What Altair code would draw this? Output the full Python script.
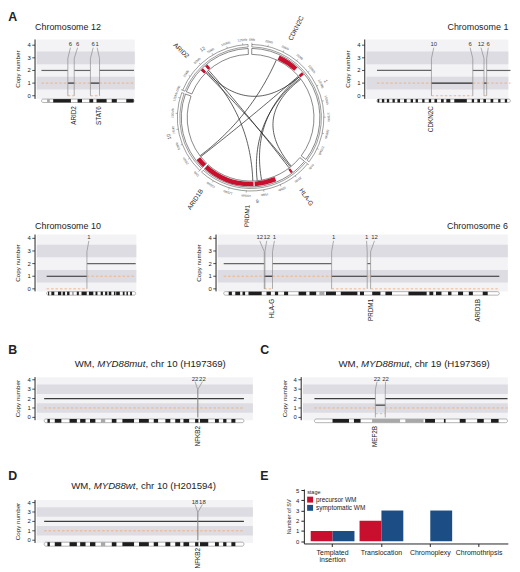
import altair as alt
import numpy as np
import pandas as pd

FONT = "Liberation Sans"
INK = "#222222"
BG = "#F3F3F6"
BAND = "#DCDCE2"
ORANGE = "#F2AE78"
SEG_LIGHT = "#666666"
SEG_DARK = "#2A2A2A"
CONN = "#8C8C8C"
RED = "#C8102E"
BLUE = "#1C4E85"

# ---------------- Panel A: chromosome 12 ----------------
chr12_length = 133.3
chr12_seg_start = [0.0, 38.0, 47.2, 70.5, 83.6]
chr12_seg_end = [38.0, 47.2, 70.5, 83.6, 133.3]
chr12_total_cn = [2, 1, 2, 1, 2]
chr12_minor_cn = [1, 0, 1, 0, 1]
chr12_bp_pos = [38.0, 47.2, 70.5, 83.6]
chr12_bp_label_pos = [41.7, 52.0, 74.5, 80.2]
chr12_bp_label = ["6", "6", "6", "1"]
chr12_funnels = [(0, 1), (2, 3)]
chr12_genes = ["ARID2", "STAT6"]
chr12_gene_pos = [47.2, 83.6]
chr12_dark_start = [16.9, 52.0, 69.0, 79.3, 101.2, 122.1]
chr12_dark_end = [42.4, 58.4, 74.5, 93.8, 108.5, 132.8]
chr12_grey_start = [8.1]
chr12_grey_end = [12.1]

# ---------------- Panel A: chromosome 1 ----------------
chr1_length = 248.9
chr1_seg_start = [0.0, 101.6, 178.7, 199.6, 204.6]
chr1_seg_end = [101.6, 178.7, 199.6, 204.6, 248.9]
chr1_total_cn = [2, 1, 2, 1, 2]
chr1_minor_cn = [1, 0, 1, 0, 1]
chr1_bp_pos = [101.6, 178.7, 199.6, 204.6]
chr1_bp_label_pos = [106.0, 173.7, 194.0, 207.6]
chr1_bp_label = ["10", "6", "12", "6"]
chr1_funnels = [(2, 3)]
chr1_genes = ["CDKN2C"]
chr1_gene_pos = [101.6]
chr1_dark_start = [1.2, 9.2, 18.5, 29.0, 38.2, 50.5, 62.8, 72.1, 84.4, 96.7,
                   107.2, 119.5, 129.4, 144.2, 176.8, 187.3, 198.4, 211.9, 226.1, 238.4]
chr1_dark_end = [4.3, 13.6, 22.8, 33.3, 43.1, 55.4, 67.2, 76.4, 88.7, 101.0,
                 112.1, 124.5, 136.8, 167.6, 181.1, 192.2, 203.3, 216.9, 230.4, 242.7]

# ---------------- chromosome 10 ideogram (A, B, D) ----------------
chr10_length = 133.8
chr10_dark_start = [2.2, 7.1, 17.0, 24.1, 30.7, 45.3, 52.4, 63.5, 73.4, 81.2,
                    87.8, 93.3, 101.1, 104.4, 114.4, 119.9, 125.4]
chr10_dark_end = [3.8, 11.5, 21.9, 27.7, 34.3, 48.4, 60.2, 70.1, 76.3, 84.5,
                  91.1, 97.1, 103.3, 109.9, 117.0, 122.1, 128.1]
chr10_grey_start = [38.0]
chr10_grey_end = [40.9]

# Panel A chromosome 10
chr10a_seg_start = [0.0, 60.5]
chr10a_seg_end = [60.5, 133.8]
chr10a_total_cn = [1, 2]
chr10a_minor_cn = [0, 1]
chr10a_bp_pos = [60.5]
chr10a_bp_label_pos = [63.4]
chr10a_bp_label = ["1"]

# ---------------- Panel A: chromosome 6 ----------------
chr6_length = 171.1
chr6_seg_start = [0.0, 25.2, 30.3, 67.0, 89.1, 91.2]
chr6_seg_end = [25.2, 30.3, 67.0, 89.1, 91.2, 171.1]
chr6_total_cn = [2, 1, 2, 1, 2, 1]
chr6_minor_cn = [1, 0, 1, 0, 1, 0]
chr6_bp_pos = [25.2, 25.6, 30.3, 67.0, 89.1, 91.2]
chr6_bp_label_pos = [22.4, 26.7, 31.5, 68.2, 88.7, 93.6]
chr6_bp_label = ["12", "12", "1", "1", "1", "12"]
chr6_funnels = [(1, 2), (4, 5)]
chr6_genes = ["HLA-G", "PRDM1", "ARID1B"]
chr6_gene_pos = [30.3, 91.2, 157.8]
chr6_dark_start = [3.1, 7.2, 11.7, 15.4, 26.6, 31.8, 37.5, 46.5, 53.3, 63.5, 72.7,
                   84.6, 92.2, 100.4, 114.7, 127.7, 131.8, 139.3, 145.5, 152.2, 160.8]
chr6_dark_end = [5.1, 10.2, 13.3, 23.6, 29.3, 33.8, 40.0, 51.2, 57.4, 69.7, 83.0,
                 87.1, 97.3, 104.5, 126.0, 130.1, 135.2, 141.4, 148.6, 154.7, 163.9]
chr6_grey_start = [59.4]
chr6_grey_end = [62.5]

# ---------------- Panels B / D: chromosome 10 ----------------
b_seg_start = [0.0]
b_seg_end = [133.8]
b_total_cn = [2]
b_minor_cn = [1]
b_bp_pos = [102.9, 102.9]
b_bp_label_pos = [101.1, 106.0]
b_bp_label = ["22", "22"]
d_bp_label = ["18", "18"]
nfkb2_pos = [102.9]

# ---------------- Panel C: chromosome 19 ----------------
chr19_length = 58.6
c_seg_start = [0.0, 18.5, 21.5]
c_seg_end = [18.5, 21.5, 58.6]
c_total_cn = [2, 1.3, 2]
c_minor_cn = [1, 0.4, 1]
c_bp_pos = [18.5, 21.5]
c_bp_label_pos = [19.0, 21.6]
c_bp_label = ["22", "22"]
c_funnels = [(0, 1)]
c_gene_pos = [18.5]
chr19_dark_start = [5.5, 12.0, 33.6, 39.3, 44.1, 49.4, 53.6]
chr19_dark_end = [10.5, 14.0, 36.6, 39.8, 45.9, 51.4, 55.9]
chr19_grey_start = [17.5, 27.6]
chr19_grey_end = [26.0, 33.1]

# ---------------- Circos (panel A centre) ----------------
circ_chroms = ["1", "6", "10", "12"]
circ_start_deg = [1.0, 129.0, 224.0, 292.0]
circ_end_deg = [127.0, 222.0, 290.0, 358.0]
circ_length_mb = [248.9, 171.1, 133.8, 133.3]
circ_label_deg = [64.0, 175.5, 257.0, 325.0]
loss_start_deg = [25.0, 48.5, 313.5, 318.5, 142.0, 158.0, 177.5, 224.0]
loss_end_deg = [43.0, 51.0, 316.0, 321.0, 144.0, 176.5, 222.0, 232.0]
circ_genes = ["CDKN2C", "ARID2", "HLA-G", "PRDM1", "ARID1B"]
circ_gene_deg = [27.0, 314.0, 145.0, 182.0, 214.0]
chord_from_deg = [316.0, 315.0, 318.5, 24.0, 317.0, 50.0, 51.5, 52.5, 49.0]
chord_to_deg = [50.0, 141.0, 142.5, 233.0, 178.0, 170.0, 174.0, 140.0, 232.0]

# ---------------- Panel E ----------------
sv_types = ["Templated insertion", "Translocation", "Chromoplexy", "Chromothripsis"]
stages = ["precursor WM", "symptomatic WM"]
stage_colors = [RED, BLUE]
precursor_counts = [1, 2, 0, 0]
symptomatic_counts = [1, 3, 3, 0]

cn_ticks = [0, 1, 2, 3, 4]


def txt(text, x, y, size=9, align="left", baseline="alphabetic", weight="normal",
        style="normal", color=INK, font=FONT, angle=0):
    return alt.Chart(pd.DataFrame({"t": [text]})).mark_text(
        align=align, baseline=baseline, fontSize=size, fontWeight=weight,
        fontStyle=style, color=color, font=font, angle=angle
    ).encode(x=alt.value(x), y=alt.value(y), text="t:N")


def box(x0, x1, y0, y1, color):
    return alt.Chart(pd.DataFrame({"c": [color]})).mark_rect(color=color).encode(
        x=alt.value(x0), x2=alt.value(x1), y=alt.value(y0), y2=alt.value(y1))


def cn_panel(off, W, Wcell, Hcell, xdom, ydom, yrange, length, seg_s, seg_e, tot, minor,
             bp_pos, bp_lab_pos, bp_lab, genes, gene_pos, dark_s, dark_e,
             grey_s=None, grey_e=None, funnels=(), ideo=(0.2, 3.6), gene_off=7.3,
             two_tone=True, extra=None):
    """off: left offset of the plot area inside its grid cell; W: plot width."""
    ysc = alt.Scale(domain=ydom, range=yrange, nice=False, zero=False)
    ybot, ytop = yrange
    xsc = alt.Scale(domain=xdom, range=[off, off + W], nice=False, zero=False)
    X = lambda f: alt.X(f, scale=xsc, axis=None)
    Y = lambda f: alt.Y(f, scale=ysc, axis=None)

    bg = alt.Chart(pd.DataFrame({"y0": [ydom[0]], "y1": [ydom[1]]})).mark_rect(color=BG).encode(
        x=alt.value(off), x2=alt.value(off + W), y=Y("y0:Q"), y2="y1:Q")
    bands = alt.Chart(pd.DataFrame({"y0": [0.5, 2.5], "y1": [1.5, 3.5]})).mark_rect(color=BAND).encode(
        x=alt.value(off), x2=alt.value(off + W), y=Y("y0:Q"), y2="y1:Q")
    layers = [bg, bands]
    if funnels:
        frows = []
        for j, (a, b) in enumerate(funnels):
            frows += [{"id": j, "k": 0, "y": ydom[0], "x": bp_pos[a], "x2": bp_pos[b]},
                      {"id": j, "k": 1, "y": 2.95, "x": bp_pos[a], "x2": bp_pos[b]},
                      {"id": j, "k": 2, "y": 3.8, "x": bp_lab_pos[a], "x2": bp_lab_pos[b]}]
        layers.append(alt.Chart(pd.DataFrame(frows)).mark_area(orient="horizontal", color="white").encode(
            y=Y("y:Q"), x=X("x:Q"), x2="x2:Q", detail="id:N", order="k:Q"))
    # y axis
    axl = alt.Chart(pd.DataFrame({"y0": [ydom[0]], "y1": [ydom[1]]})).mark_rule(
        color=INK, strokeWidth=1).encode(x=alt.value(off - 1.7), y=Y("y0:Q"), y2="y1:Q")
    tdf = pd.DataFrame({"v": cn_ticks, "t": [str(v) for v in cn_ticks]})
    axt = alt.Chart(tdf).mark_rule(color=INK, strokeWidth=0.8).encode(
        x=alt.value(off - 4.5), x2=alt.value(off - 1.7), y=Y("v:Q"))
    axlab = alt.Chart(tdf).mark_text(align="right", baseline="middle", fontSize=6, font=FONT,
                                     color=INK).encode(x=alt.value(off - 6), y=Y("v:Q"), text="t:N")
    axtitle = txt("Copy number", off - 18.5, (ybot + ytop) / 2, 6.3, align="center",
                  baseline="middle", angle=270)
    layers += [axl, axt, axlab, axtitle]

    segdf = pd.DataFrame({"s": seg_s, "e": seg_e, "cn": tot, "m": minor})
    orange = alt.Chart(segdf).mark_rule(color=ORANGE, strokeDash=[2.5, 2], strokeWidth=0.9).encode(
        x=X("s:Q"), x2="e:Q", y=Y("m:Q"))
    seg_color = (alt.condition(alt.datum.cn < 2, alt.value(SEG_DARK), alt.value(SEG_LIGHT))
                 if two_tone else alt.value("#3C3C3C"))
    segs = alt.Chart(segdf).mark_rule(strokeWidth=1.2).encode(
        x=X("s:Q"), x2="e:Q", y=Y("cn:Q"), color=seg_color)
    rows = []
    for i, (p, lp) in enumerate(zip(bp_pos, bp_lab_pos)):
        rows += [{"id": i, "k": 0, "x": p, "y": 0.0},
                 {"id": i, "k": 1, "x": p, "y": 2.95},
                 {"id": i, "k": 2, "x": lp, "y": 3.8}]
    conn = alt.Chart(pd.DataFrame(rows)).mark_line(color=CONN, strokeWidth=0.7).encode(
        x=X("x:Q"), y=Y("y:Q"), detail="id:N", order="k:Q")
    labdf = pd.DataFrame({"x": bp_lab_pos, "t": bp_lab, "y": [4.1] * len(bp_lab)})
    blab = alt.Chart(labdf).mark_text(fontSize=6, font=FONT, color="#333333").encode(
        x=X("x:Q"), y=Y("y:Q"), text="t:N")
    iy0, iy1 = ybot + ideo[0], ybot + ideo[1]
    outline = alt.Chart(pd.DataFrame({"s": [0.0], "e": [length]})).mark_rect(
        fill="white", stroke="#666666", strokeWidth=0.5, cornerRadius=1.8).encode(
        x=X("s:Q"), x2="e:Q", y=alt.value(iy0), y2=alt.value(iy1))
    dark = alt.Chart(pd.DataFrame({"s": dark_s, "e": dark_e})).mark_rect(color="#1E1E1E").encode(
        x=X("s:Q"), x2="e:Q", y=alt.value(iy0), y2=alt.value(iy1))
    layers += [orange, segs, conn, blab, outline, dark]
    if grey_s:
        layers.append(alt.Chart(pd.DataFrame({"s": grey_s, "e": grey_e})).mark_rect(color="#A8A8A8").encode(
            x=X("s:Q"), x2="e:Q", y=alt.value(iy0), y2=alt.value(iy1)))
    if genes:
        layers.append(alt.Chart(pd.DataFrame({"g": genes, "x": gene_pos})).mark_text(
            angle=270, align="right", baseline="middle", fontSize=6.4, font=FONT, color=INK).encode(
            x=X("x:Q"), y=alt.value(ybot + gene_off), text="g:N"))
    if extra:
        layers += extra
    return alt.layer(*layers).properties(width=Wcell, height=Hcell)


def wm_title(x0, y, mut, rest):
    s = 9.75
    w1 = 2.333 * s
    em = {"MYD88mut": 5.0, "MYD88wt": 4.334}[mut]
    return [txt("WM, ", x0, y, s), txt(mut, x0 + w1, y, s, style="italic"),
            txt(rest, x0 + w1 + em * s, y, s)]


def dummy(h):
    return alt.Chart(pd.DataFrame({"a": [0]})).mark_point(opacity=0).encode(
        x=alt.value(0), y=alt.value(0)).properties(width=1, height=h)


# grid: column widths fixed; row heights include the gap to the next row
C1, C2, C3 = 136.5, 195.5, 143.3
H1, H2, H3, H4 = 196.6, 143.4, 112.3, 55

chr12 = cn_panel(0, 99, C1, H1, [-6.8, 134.3], [-0.25, 4.45], [60, 0], chr12_length,
                 chr12_seg_start, chr12_seg_end, chr12_total_cn, chr12_minor_cn,
                 chr12_bp_pos, chr12_bp_label_pos, chr12_bp_label,
                 chr12_genes, chr12_gene_pos, chr12_dark_start, chr12_dark_end,
                 chr12_grey_start, chr12_grey_end, funnels=chr12_funnels,
                 extra=[txt("Chromosome 12", -1.7, -9.7, 9),
                        txt("A", -28.7, -28.7, 12.5, baseline="top", weight="bold")])

chr1 = cn_panel(0, 143.3, C3, H1, [-19.6, 245.0], [-0.25, 4.45], [60, 0], chr1_length,
                chr1_seg_start, chr1_seg_end, chr1_total_cn, chr1_minor_cn,
                chr1_bp_pos, chr1_bp_label_pos, chr1_bp_label,
                chr1_genes, chr1_gene_pos, chr1_dark_start, chr1_dark_end,
                funnels=chr1_funnels,
                extra=[txt("Chromosome 1", 143.3, -9.7, 9, align="right")])

chr10 = cn_panel(0, 100.6, C1, H2, [-14.9, 134.7], [-0.2, 4.3], [57.4, 0], chr10_length,
                 chr10a_seg_start, chr10a_seg_end, chr10a_total_cn, chr10a_minor_cn,
                 chr10a_bp_pos, chr10a_bp_label_pos, chr10a_bp_label,
                 [], [], chr10_dark_start, chr10_dark_end, chr10_grey_start, chr10_grey_end,
                 ideo=(0.3, 3.8), gene_off=7.6,
                 extra=[txt("Chromosome 10", -1.7, -6, 9)])

chr6 = cn_panel(45.8, 293, C2, H2, [-3.7, 176.4], [-0.2, 4.3], [57.4, 0], chr6_length,
                chr6_seg_start, chr6_seg_end, chr6_total_cn, chr6_minor_cn,
                chr6_bp_pos, chr6_bp_label_pos, chr6_bp_label,
                chr6_genes, chr6_gene_pos, chr6_dark_start, chr6_dark_end,
                chr6_grey_start, chr6_grey_end, funnels=chr6_funnels,
                ideo=(0.3, 3.8), gene_off=7.6,
                extra=[txt("Chromosome 6", 45.8 + 293, -6, 9, align="right")])

panel_b = cn_panel(0, 218.3, C1, H3, [-5.0, 139.8], [-0.3, 4.28], [43.5, 0], chr10_length,
                   b_seg_start, b_seg_end, b_total_cn, b_minor_cn,
                   b_bp_pos, b_bp_label_pos, b_bp_label,
                   ["NFKB2"], nfkb2_pos, chr10_dark_start, chr10_dark_end,
                   chr10_grey_start, chr10_grey_end, ideo=(-1.2, 2.5), gene_off=5.8,
                   two_tone=False,
                   extra=wm_title(38.3, -10.7, "MYD88mut", ", chr 10 (H197369)") +
                   [txt("B", -28.7, -33.7, 12.5, baseline="top", weight="bold")])

C_OFF = 131.8
panel_c = cn_panel(C_OFF, 207, C2, H3, [-3.5, 58.7], [-0.3, 4.28], [43.5, 0], chr19_length,
                   c_seg_start, c_seg_end, c_total_cn, c_minor_cn,
                   c_bp_pos, c_bp_label_pos, c_bp_label,
                   ["MEF2B"], c_gene_pos, chr19_dark_start, chr19_dark_end,
                   chr19_grey_start, chr19_grey_end, funnels=c_funnels,
                   ideo=(-1.2, 2.5), gene_off=5.8, two_tone=False,
                   extra=wm_title(C_OFF + 36.0, -10.7, "MYD88mut", ", chr 19 (H197369)") +
                   [txt("C", C_OFF - 43, -33.7, 12.5, baseline="top", weight="bold")])

panel_d = cn_panel(0, 218.3, C1, H4, [-5.0, 139.8], [-0.3, 4.28], [54.55, 11.04], chr10_length,
                   b_seg_start, b_seg_end, b_total_cn, b_minor_cn,
                   b_bp_pos, b_bp_label_pos, d_bp_label,
                   ["NFKB2"], nfkb2_pos, chr10_dark_start, chr10_dark_end,
                   chr10_grey_start, chr10_grey_end,
                   ideo=(-0.85, 3.15), gene_off=5.0, two_tone=False,
                   extra=wm_title(34.8, 0.3, "MYD88wt", ", chr 10 (H201594)") +
                   [txt("D", -28.7, -19, 12.5, baseline="top", weight="bold")])

# ---------------- circos ----------------
S = 158
HALF = S / 2
cs_x = alt.Scale(domain=[-HALF, HALF], range=[0, S], nice=False, zero=False)
cs_y = alt.Scale(domain=[-HALF, HALF], range=[S, 0], nice=False, zero=False)
CX = lambda f: alt.X(f, scale=cs_x, axis=None)
CY = lambda f: alt.Y(f, scale=cs_y, axis=None)
rad = np.pi / 180


def pol(deg, r):
    d = np.asarray(deg, dtype=float) * rad
    return r * np.sin(d), r * np.cos(d)


def arc_layer(df, r_out, r_in, **kw):
    return alt.Chart(df).mark_arc(radius=r_out, radius2=r_in, **kw).encode(
        theta=alt.Theta("t0:Q", scale=None), theta2="t1:Q",
        x=alt.value(HALF), y=alt.value(HALF))


sect = pd.DataFrame({"t0": np.array(circ_start_deg) * rad, "t1": np.array(circ_end_deg) * rad})
lossdf = pd.DataFrame({"t0": np.array(loss_start_deg) * rad, "t1": np.array(loss_end_deg) * rad})
track = arc_layer(sect, 70, 64, fill="white", stroke="#3A3A3A", strokeWidth=0.6)
loss = arc_layer(lossdf, 69.3, 64.7, fill=RED)
ring = arc_layer(sect, 74, 71.5, fill="white", stroke="#3A3A3A", strokeWidth=0.5)

tick_rows = []
for c, a0, a1, L in zip(circ_chroms, circ_start_deg, circ_end_deg, circ_length_mb):
    for mb in range(0, int(L) + 1, 25):
        a = a0 + mb / L * (a1 - a0)
        x1, y1 = pol(a, 74)
        x2, y2 = pol(a, 75.8)
        xl, yl = pol(a, 78.8)
        tick_rows.append({"x1": x1, "y1": y1, "x2": x2, "y2": y2, "xl": xl, "yl": yl,
                          "ang": a % 360, "lab": f"{mb}Mb"})
tickdf = pd.DataFrame(tick_rows)
ticks = alt.Chart(tickdf).mark_rule(color="#3A3A3A", strokeWidth=0.4).encode(
    x=CX("x1:Q"), y=CY("y1:Q"), x2="x2:Q", y2="y2:Q")
ticklab = alt.Chart(tickdf).mark_text(fontSize=3.2, font=FONT, color="#555555", baseline="middle").encode(
    x=CX("xl:Q"), y=CY("yl:Q"), text="lab:N", angle=alt.Angle("ang:Q", scale=None))

cx, cy = pol(circ_label_deg, 85)
chromlab = alt.Chart(pd.DataFrame({"x": cx, "y": cy, "t": circ_chroms,
                                   "ang": np.array(circ_label_deg) % 360})).mark_text(
    fontSize=5, font=FONT, color="#444444", baseline="middle").encode(
    x=CX("x:Q"), y=CY("y:Q"), text="t:N", angle=alt.Angle("ang:Q", scale=None))

gx, gy = pol(circ_gene_deg, 88)
gdf = pd.DataFrame({"x": gx, "y": gy, "g": circ_genes, "deg": circ_gene_deg})
gdf["right"] = gdf["deg"] < 180
gdf["ang"] = np.where(gdf["right"], (gdf["deg"] - 90) % 360, (gdf["deg"] + 90) % 360)
gene_r = alt.Chart(gdf[gdf["right"]]).mark_text(
    fontSize=6.5, font=FONT, color=INK, align="left", baseline="middle").encode(
    x=CX("x:Q"), y=CY("y:Q"), text="g:N", angle=alt.Angle("ang:Q", scale=None))
gene_l = alt.Chart(gdf[~gdf["right"]]).mark_text(
    fontSize=6.5, font=FONT, color=INK, align="right", baseline="middle").encode(
    x=CX("x:Q"), y=CY("y:Q"), text="g:N", angle=alt.Angle("ang:Q", scale=None))

chord_rows = []
tt = np.linspace(0, 1, 40)
for i, (a, b) in enumerate(zip(chord_from_deg, chord_to_deg)):
    x0, y0 = pol(a, 63.6)
    x2, y2 = pol(b, 63.6)
    xs = (1 - tt) ** 2 * x0 + tt ** 2 * x2
    ys = (1 - tt) ** 2 * y0 + tt ** 2 * y2
    for k in range(len(tt)):
        chord_rows.append({"id": i, "k": k, "x": xs[k], "y": ys[k]})
chords = alt.Chart(pd.DataFrame(chord_rows)).mark_line(color="#1A1A1A", strokeWidth=0.7).encode(
    x=CX("x:Q"), y=CY("y:Q"), detail="id:N", order="k:Q")

circos = alt.layer(track, loss, ring, ticks, ticklab, chromlab, chords, gene_r, gene_l).properties(
    width=C2, height=H1)

# ---------------- panel E ----------------
E_OFF, E_W = 132.8, 206
edf = pd.DataFrame({
    "type": sv_types * 2,
    "stage": [stages[0]] * 4 + [stages[1]] * 4,
    "n": precursor_counts + symptomatic_counts,
})
bars = alt.Chart(edf).mark_bar().encode(
    x=alt.X("type:N", sort=sv_types,
            scale=alt.Scale(range=[E_OFF, E_OFF + E_W], paddingInner=0.104, paddingOuter=0.14),
            axis=alt.Axis(title=None, labelAngle=0, labelFontSize=7, labelFont=FONT, labelColor=INK,
                          domainColor=INK, tickColor=INK, tickSize=3, labelPadding=2,
                          labelLineHeight=7.5, labelExpr="split(datum.label, ' ')")),
    xOffset=alt.XOffset("stage:N", sort=stages),
    y=alt.Y("n:Q", scale=alt.Scale(domain=[-0.22, 5.1], nice=False, zero=False),
            axis=alt.Axis(values=[0, 1, 2, 3, 4, 5], title="Number of SV", grid=False,
                          domainColor=INK, tickColor=INK, tickSize=3, labelFontSize=6,
                          labelColor=INK, labelPadding=2, titleFont=FONT, titleFontSize=5.6,
                          titleFontWeight="normal", titleColor=INK, titlePadding=4,
                          offset=-E_OFF)),
    y2=alt.datum(0),
    color=alt.Color("stage:N", scale=alt.Scale(domain=stages, range=stage_colors), legend=None),
)
legend_marks = [
    txt("stage", E_OFF + 3.3, 2.7, 5.5, baseline="middle"),
    box(E_OFF + 3.3, E_OFF + 9.3, 7.7, 13.7, stage_colors[0]),
    txt(stages[0], E_OFF + 12.3, 10.7, 6.5, baseline="middle"),
    box(E_OFF + 3.3, E_OFF + 9.3, 16.0, 22.0, stage_colors[1]),
    txt(stages[1], E_OFF + 12.3, 19.0, 6.5, baseline="middle"),
]
panel_e = alt.layer(bars, *legend_marks,
                    txt("E", E_OFF - 44, -19, 12.5, baseline="top", weight="bold")).properties(
    width=C2, height=H4)

# ---------------- layout (single flush grid) ----------------
chart = alt.concat(
    chr12, circos, chr1,
    chr10, chr6, dummy(H2),
    panel_b, panel_c, dummy(H3),
    panel_d, panel_e, dummy(H4),
    columns=3, align="each", bounds="flush", spacing=0,
).properties(padding=0).configure(font=FONT).configure_view(stroke="transparent", strokeWidth=0)

chart.save("out.html", embed_options={"renderer": "svg", "actions": False})
